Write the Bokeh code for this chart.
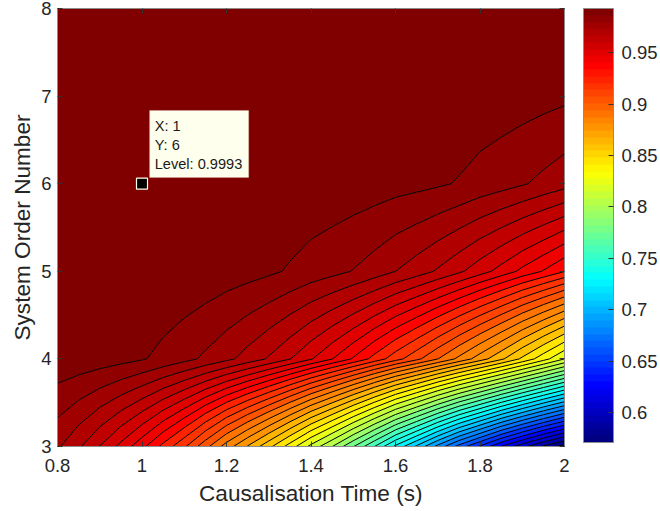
from bokeh.plotting import figure
from bokeh.models import LinearAxis, FixedTicker, ColorBar, LinearColorMapper, BoxAnnotation, Label, Range1d
from bokeh.embed import file_html
from bokeh.resources import INLINE
import numpy as np

times = [0.8, 0.85, 0.9, 0.95, 1.0, 1.05, 1.1, 1.15, 1.2, 1.25, 1.3, 1.35, 1.4, 1.45, 1.5, 1.55, 1.6, 1.65, 1.7, 1.75, 1.8, 1.85, 1.9, 1.95, 2.0]
orders = [3, 4, 5, 6, 7, 8]
level_order3 = [.9798, .9728, .9645, .9555, .9456, .934, .922, .907, .891, .876, .860, .842, .822, .803, .781, .758, .733, .711, .687, .664, .644, .623, .605, .588, .573]
level_order4 = [.998, .9974, .9965, .9952, .9935, .9909, .9879, .9845, .9806, .976, .9709, .965, .9582, .9508, .9427, .9336, .9241, .9148, .9042, .893, .8814, .869, .855, .8405, .8252]
level_order5 = [.9994, .9994, .9993, .9992, .9991, .999, .9986, .9978, .9966, .9955, .9941, .9922, .9899, .9879, .9855, .9825, .9788, .9752, .9708, .966, .9606, .955, .9488, .943, .9365]
level_order6 = [.9996, .9996, .9995, .9994, .9993, .9992, .9991, .999, .9988, .9987, .9985, .9983, .9981, .9977, .9971, .9964, .9955, .9948, .9938, .9924, .9904, .9886, .9865, .984, .9814]
level_order7 = [.9999, .9999, .9999, .9999, .9998, .9998, .9998, .9998, .9997, .9997, .9996, .9996, .9995, .9994, .9993, .9991, .9989, .9988, .9985, .998, .9972, .9967, .996, .9952, .9943]
level_order8 = [1.0, 1.0, 1.0, 1.0, .9999, .9999, .9999, .9999, .9999, .9999, .9999, .9999, .9998, .9998, .9998, .9998, .9998, .9998, .9997, .9997, .9997, .9997, .9996, .9996, .9995]
contour_levels = [.571, .5788, .59, .6012, .6124, .6236, .6348, .646, .6572, .6684, .6796, .6908, .702, .7132, .7244,
                  .7356, .7468, .758, .7692, .7804, .7916, .8028, .814, .8252, .8361, .8467, .857, .867, .8767, .8861,
                  .8952, .904, .9125, .9207, .9286, .9362, .9435, .9506, .9576, .9647, .9717, .9788, .9858, .9929, 1.0001]
x_ticks = [0.8, 1.0, 1.2, 1.4, 1.6, 1.8, 2.0]
y_ticks = [3, 4, 5, 6, 7, 8]
cb_ticks = [0.6, 0.65, 0.7, 0.75, 0.8, 0.85, 0.9, 0.95]
tip_x, tip_y, tip_level = 1, 6, 0.9993
c_low, c_high = 0.571, 0.9929

def jet(t):
    r = np.clip(min(4*t-1.5, -4*t+4.5), 0, 1)
    g = np.clip(min(4*t-0.5, -4*t+3.5), 0, 1)
    b = np.clip(min(4*t+0.5, -4*t+2.5), 0, 1)
    return "#%02x%02x%02x" % (round(r*255), round(g*255), round(b*255))

palette64 = [jet(i/63) for i in range(64)]
cm = LinearColorMapper(palette=palette64, low=c_low, high=c_high)

fills = [palette64[int(round((l-c_low)/(c_high-c_low)*63))] for l in contour_levels[:-1]]
Z = np.array([level_order3, level_order4, level_order5, level_order6, level_order7, level_order8])

TXT = "#262626"; EDGE = "#8c8c8c"
p = figure(frame_width=507, frame_height=438, width=658, height=503, output_backend="svg", toolbar_location=None,
           x_range=Range1d(0.8, 2.0), y_range=Range1d(3, 8),
           min_border_left=57, min_border_top=8, min_border_bottom=57, min_border_right=94)
p.grid.visible = False
p.contour(times, orders, Z, levels=contour_levels, fill_color=fills, line_color="black", line_width=1.0)

for ax, ticks in ((p.xaxis[0], x_ticks), (p.yaxis[0], y_ticks)):
    ax.ticker = FixedTicker(ticks=ticks)
    ax.major_label_text_font = "Liberation Sans"
    ax.major_label_text_font_size = "18.5px"
    ax.major_label_text_color = TXT
    ax.axis_line_color = EDGE
    ax.major_tick_line_color = "#333333"
    ax.major_tick_in = 5; ax.major_tick_out = 0
    ax.minor_tick_line_color = None
    ax.axis_label_text_font = "Liberation Sans"
    ax.axis_label_text_font_style = "normal"
    ax.axis_label_text_font_size = "22.6px"
    ax.axis_label_text_color = TXT
p.xaxis[0].axis_label = "Causalisation Time (s)"
p.yaxis[0].axis_label = "System Order Number"
p.xaxis[0].major_label_overrides = {0.8: "0.8", 1.0: "1", 1.2: "1.2", 1.4: "1.4", 1.6: "1.6", 1.8: "1.8", 2.0: "2"}
p.xaxis[0].major_label_standoff = 12
p.yaxis[0].major_label_standoff = 6
p.xaxis[0].axis_label_standoff = 6
p.yaxis[0].axis_label_standoff = 3

for side, ticks in (("above", x_ticks), ("right", y_ticks)):
    a = LinearAxis(ticker=FixedTicker(ticks=ticks), major_label_overrides={t: "" for t in ticks},
                   axis_line_color=EDGE, major_tick_line_color="#333333", major_tick_in=5, major_tick_out=0,
                   minor_tick_line_color=None, major_label_standoff=0, major_label_text_font_size="1px")
    p.add_layout(a, side)

cb = ColorBar(color_mapper=cm, width=30, height=434, location=(19, 4), padding=0, margin=0,
              ticker=FixedTicker(ticks=cb_ticks), major_label_text_font="Liberation Sans",
              major_label_text_font_size="18.5px", major_label_text_color=TXT,
              major_tick_line_color="#333333", major_tick_in=5, major_tick_out=0, label_standoff=8,
              bar_line_color=EDGE, minor_tick_line_color=None, title=None)
cb.major_label_overrides = {0.6: "0.6", 0.7: "0.7", 0.8: "0.8", 0.9: "0.9"}
p.add_layout(cb, "right")

p.add_layout(BoxAnnotation(left=tip_x+0.018, right=tip_x+0.2525, bottom=tip_y+0.07, top=tip_y+0.836,
                           fill_color="#ffffee", fill_alpha=1, line_color="#cdc5b0", line_width=1))
p.scatter([tip_x], [tip_y], marker="square", size=11, fill_color="black", line_color="#ffffee", line_width=1.2)
for i, t in enumerate([f"X: {tip_x}", f"Y: {tip_y}", f"Level: {tip_level}"]):
    p.add_layout(Label(x=tip_x+0.03, y=tip_y+0.66-0.216*i, text=t, text_font="Liberation Sans", text_font_size="14.6px",
                       text_color="#1a1a1a", text_baseline="middle"))

open("out.html", "w").write(file_html(p, INLINE))
